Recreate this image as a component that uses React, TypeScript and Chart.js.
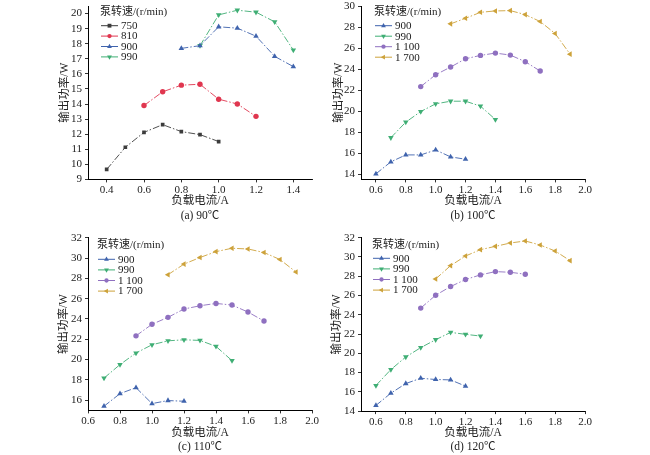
import { useEffect, useRef } from "react";
import { Chart, registerables } from "chart.js";
Chart.register(...registerables);

// ── Data ──────────────────────────────────────────────────────────────────────

const LEGEND_TITLE = "泵转速/(r/min)";
const X_TITLE = "负载电流/A";
const Y_TITLE = "输出功率/W";

// (a) 90 ℃
const A_SPEEDS = ["750", "810", "900", "990"];
const A_X_750 = [0.4, 0.5, 0.6, 0.7, 0.8, 0.9, 1.0];
const A_Y_750 = [9.66, 11.13, 12.12, 12.63, 12.17, 11.97, 11.51];
const A_X_810 = [0.6, 0.7, 0.8, 0.9, 1.0, 1.1, 1.2];
const A_Y_810 = [13.9, 14.81, 15.25, 15.31, 14.32, 14.0, 13.18];
const A_X_900 = [0.8, 0.9, 1.0, 1.1, 1.2, 1.3, 1.4];
const A_Y_900 = [17.69, 17.87, 19.12, 19.03, 18.5, 17.16, 16.48];
const A_X_990 = [0.9, 1.0, 1.1, 1.2, 1.3, 1.4];
const A_Y_990 = [17.87, 19.91, 20.22, 20.09, 19.45, 17.58];
const A_X_TICKS = [0.4, 0.6, 0.8, 1.0, 1.2, 1.4];
const A_Y_TICKS = [9, 10, 11, 12, 13, 14, 15, 16, 17, 18, 19, 20];

// (b) 100 ℃
const B_SPEEDS = ["900", "990", "1 100", "1 700"];
const B_X_900 = [0.6, 0.7, 0.8, 0.9, 1.0, 1.1, 1.2];
const B_Y_900 = [14.03, 15.17, 15.83, 15.83, 16.3, 15.64, 15.42];
const B_X_990 = [0.7, 0.8, 0.9, 1.0, 1.1, 1.2, 1.3, 1.4];
const B_Y_990 = [17.47, 18.95, 19.96, 20.69, 20.94, 20.94, 20.47, 19.2];
const B_X_1100 = [0.9, 1.0, 1.1, 1.2, 1.3, 1.4, 1.5, 1.6, 1.7];
const B_Y_1100 = [22.33, 23.46, 24.19, 24.98, 25.3, 25.52, 25.33, 24.7, 23.81];
const B_X_1700 = [1.1, 1.2, 1.3, 1.4, 1.5, 1.6, 1.7, 1.8, 1.9];
const B_Y_1700 = [28.3, 28.83, 29.4, 29.53, 29.56, 29.18, 28.52, 27.38, 25.42];
const B_X_TICKS = [0.6, 0.8, 1.0, 1.2, 1.4, 1.6, 1.8, 2.0];
const B_Y_TICKS = [14, 16, 18, 20, 22, 24, 26, 28, 30];

// (c) 110 ℃
const C_SPEEDS = ["900", "990", "1 100", "1 700"];
const C_X_900 = [0.7, 0.8, 0.9, 1.0, 1.1, 1.2];
const C_Y_900 = [15.41, 16.65, 17.24, 15.67, 15.97, 15.9];
const C_X_990 = [0.7, 0.8, 0.9, 1.0, 1.1, 1.2, 1.3, 1.4, 1.5];
const C_Y_990 = [18.18, 19.51, 20.65, 21.46, 21.85, 21.95, 21.89, 21.3, 19.9];
const C_X_1100 = [0.9, 1.0, 1.1, 1.2, 1.3, 1.4, 1.5, 1.6, 1.7];
const C_Y_1100 = [22.34, 23.48, 24.16, 24.98, 25.3, 25.53, 25.37, 24.68, 23.8];
const C_X_1700 = [1.1, 1.2, 1.3, 1.4, 1.5, 1.6, 1.7, 1.8, 1.9];
const C_Y_1700 = [28.36, 29.4, 30.05, 30.63, 30.96, 30.89, 30.54, 29.85, 28.62];
const C_X_TICKS = [0.6, 0.8, 1.0, 1.2, 1.4, 1.6, 1.8, 2.0];
const C_Y_TICKS = [16, 18, 20, 22, 24, 26, 28, 30, 32];

// (d) 120 ℃
const D_SPEEDS = ["900", "990", "1 100", "1 700"];
const D_X_900 = [0.6, 0.7, 0.8, 0.9, 1.0, 1.1, 1.2];
const D_Y_900 = [14.59, 15.86, 16.86, 17.41, 17.28, 17.24, 16.59];
const D_X_990 = [0.6, 0.7, 0.8, 0.9, 1.0, 1.1, 1.2, 1.3];
const D_Y_990 = [16.66, 18.31, 19.62, 20.59, 21.41, 22.17, 21.97, 21.79];
const D_X_1100 = [0.9, 1.0, 1.1, 1.2, 1.3, 1.4, 1.5, 1.6];
const D_Y_1100 = [24.69, 26.03, 26.93, 27.66, 28.14, 28.48, 28.41, 28.21];
const D_X_1700 = [1.0, 1.1, 1.2, 1.3, 1.4, 1.5, 1.6, 1.7, 1.8, 1.9];
const D_Y_1700 = [27.72, 29.1, 30.1, 30.76, 31.1, 31.45, 31.66, 31.24, 30.62, 29.62];
const D_X_TICKS = [0.6, 0.8, 1.0, 1.2, 1.4, 1.6, 1.8, 2.0];
const D_Y_TICKS = [14, 16, 18, 20, 22, 24, 26, 28, 30, 32];

// ── Styles ────────────────────────────────────────────────────────────────────

const FONT = '"Liberation Serif", "Noto Sans CJK SC", serif';
const INK = "#222";

type Marker = { color: string; style: string; rotation: number };
const MARKERS: Record<string, Marker> = {
  "750":   { color: "#3c3c3c", style: "rect",     rotation: 0 },
  "810":   { color: "#e0364f", style: "circle",   rotation: 0 },
  "900":   { color: "#3f63ad", style: "triangle", rotation: 0 },
  "990":   { color: "#3fae74", style: "triangle", rotation: 180 },
  "1 100": { color: "#8f70c0", style: "circle",   rotation: 0 },
  "1 700": { color: "#cda23a", style: "triangle", rotation: 270 },
};

const W = 325;
const H = 227;

interface Box {
  left: number; right: number; top: number; bottom: number;
  yTitleX: number; captionY: number;
  legendX: number; legendTitleY: number; legendFirstY: number; legendRow: number;
}

interface Panel {
  caption: string;
  speeds: string[];
  xs: number[][];
  ys: number[][];
  xMin: number; xMax: number; xTicks: number[];
  yMin: number; yMax: number; yTicks: number[];
  box: Box;
}

const PANELS: Panel[] = [
  {
    caption: "(a) 90℃", speeds: A_SPEEDS,
    xs: [A_X_750, A_X_810, A_X_900, A_X_990], ys: [A_Y_750, A_Y_810, A_Y_900, A_Y_990],
    xMin: 0.3, xMax: 1.5, xTicks: A_X_TICKS, yMin: 9, yMax: 20.5, yTicks: A_Y_TICKS,
    box: { left: 88, right: 312, top: 6, bottom: 180, yTitleX: 65, captionY: 216,
      legendX: 101, legendTitleY: 11.7, legendFirstY: 25.7, legendRow: 10.4 },
  },
  {
    caption: "(b) 100℃", speeds: B_SPEEDS,
    xs: [B_X_900, B_X_990, B_X_1100, B_X_1700], ys: [B_Y_900, B_Y_990, B_Y_1100, B_Y_1700],
    xMin: 0.5, xMax: 2.0, xTicks: B_X_TICKS, yMin: 13.5, yMax: 30, yTicks: B_Y_TICKS,
    box: { left: 36, right: 260, top: 6, bottom: 180, yTitleX: 13.5, captionY: 216,
      legendX: 50, legendTitleY: 11.7, legendFirstY: 25.7, legendRow: 10.5 },
  },
  {
    caption: "(c) 110℃", speeds: C_SPEEDS,
    xs: [C_X_900, C_X_990, C_X_1100, C_X_1700], ys: [C_Y_900, C_Y_990, C_Y_1100, C_Y_1700],
    xMin: 0.6, xMax: 2.0, xTicks: C_X_TICKS, yMin: 15, yMax: 32, yTicks: C_Y_TICKS,
    box: { left: 88, right: 312, top: 9.7, bottom: 183, yTitleX: 63.3, captionY: 219.7,
      legendX: 98, legendTitleY: 17, legendFirstY: 31.3, legendRow: 10.6 },
  },
  {
    caption: "(d) 120℃", speeds: D_SPEEDS,
    xs: [D_X_900, D_X_990, D_X_1100, D_X_1700], ys: [D_Y_900, D_Y_990, D_Y_1100, D_Y_1700],
    xMin: 0.5, xMax: 2.0, xTicks: D_X_TICKS, yMin: 14, yMax: 32, yTicks: D_Y_TICKS,
    box: { left: 36, right: 260, top: 9.7, bottom: 183.7, yTitleX: 11.7, captionY: 219.7,
      legendX: 48, legendTitleY: 17, legendFirstY: 30.3, legendRow: 10.6 },
  },
];

// ── Helpers ───────────────────────────────────────────────────────────────────

function drawMarker(ctx: CanvasRenderingContext2D, m: Marker, x: number, y: number, r: number) {
  ctx.save();
  ctx.translate(x, y);
  ctx.rotate((m.rotation * Math.PI) / 180);
  ctx.fillStyle = m.color;
  ctx.beginPath();
  if (m.style === "rect") ctx.rect(-r * 0.8, -r * 0.8, r * 1.6, r * 1.6);
  else if (m.style === "circle") ctx.arc(0, 0, r * 0.9, 0, Math.PI * 2);
  else {
    ctx.moveTo(0, -r * 1.15);
    ctx.lineTo(r, r * 0.6);
    ctx.lineTo(-r, r * 0.6);
    ctx.closePath();
  }
  ctx.fill();
  ctx.restore();
}

function innerLegend(p: Panel) {
  return {
    id: "innerLegend",
    afterDatasetsDraw(chart: Chart) {
      const ctx = chart.ctx;
      const b = p.box;
      ctx.save();
      ctx.font = `11px ${FONT}`;
      ctx.fillStyle = INK;
      ctx.textBaseline = "middle";
      ctx.textAlign = "left";
      ctx.fillText(LEGEND_TITLE, b.legendX - 1, b.legendTitleY);
      p.speeds.forEach((s, i) => {
        const m = MARKERS[s];
        const y = b.legendFirstY + i * b.legendRow;
        ctx.strokeStyle = m.color;
        ctx.lineWidth = 1;
        ctx.beginPath();
        ctx.moveTo(b.legendX, y);
        ctx.lineTo(b.legendX + 17, y);
        ctx.stroke();
        drawMarker(ctx, m, b.legendX + 8.5, y, 2.4);
        ctx.fillStyle = INK;
        ctx.fillText(s, b.legendX + 20, y + 0.5);
      });
      ctx.restore();
    },
  };
}

// ── One panel ─────────────────────────────────────────────────────────────────

function PanelChart({ p }: { p: Panel }) {
  const ref = useRef<HTMLCanvasElement>(null);
  const chartRef = useRef<Chart | null>(null);

  useEffect(() => {
    if (!ref.current) return;
    chartRef.current?.destroy();

    const b = p.box;
    const half = 6.6; // half line height of an 11px label
    const padLeft = b.yTitleX - half;
    const yWidth = b.left - padLeft;
    const xHeight = b.captionY - half - b.bottom;

    chartRef.current = new Chart(ref.current, {
      type: "line",
      data: {
        datasets: p.speeds.map((s, i) => {
          const m = MARKERS[s];
          return {
            label: s,
            data: p.xs[i].map((x, j) => ({ x, y: p.ys[i][j] })),
            borderColor: m.color,
            backgroundColor: m.color,
            borderWidth: 0.9,
            borderDash: [7, 2, 1.5, 2],
            pointStyle: m.style,
            rotation: m.rotation,
            pointRadius: m.style === "circle" ? 2.7 : m.style === "rect" ? 2.6 : 3.2,
            pointBorderWidth: 0,
            pointBackgroundColor: m.color,
            tension: 0,
          };
        }),
      },
      options: {
        responsive: false,
        animation: false,
        layout: {
          padding: { left: padLeft, right: W - b.right, top: b.top, bottom: H - (b.captionY + half) },
        },
        plugins: {
          legend: { display: false },
          tooltip: { enabled: false },
          title: {
            display: true,
            position: "bottom",
            fullSize: false,
            text: p.caption,
            padding: 0,
            color: INK,
            font: { family: FONT, size: 11.5, weight: "normal" },
          },
        },
        scales: {
          x: {
            type: "linear",
            min: p.xMin,
            max: p.xMax,
            afterBuildTicks: (s) => { s.ticks = p.xTicks.map((v) => ({ value: v })); },
            afterFit: (s) => { s.height = xHeight; s.paddingLeft = 0; s.paddingRight = 0; },
            ticks: {
              autoSkip: false, maxRotation: 0, padding: 1, color: INK,
              font: { family: FONT, size: 11 },
              callback: (v) => Number(v).toFixed(1),
            },
            grid: { drawOnChartArea: false, drawTicks: true, tickLength: 3, color: "#000", lineWidth: 0.8 },
            border: { display: true, color: "#000", width: 1 },
            title: {
              display: true, text: X_TITLE, color: INK, padding: { top: 0, bottom: 1 },
              font: { family: FONT, size: 11.5 },
            },
          },
          y: {
            type: "linear",
            min: p.yMin,
            max: p.yMax,
            afterBuildTicks: (s) => { s.ticks = p.yTicks.map((v) => ({ value: v })); },
            afterFit: (s) => { s.width = yWidth; s.paddingTop = 0; s.paddingBottom = 0; },
            ticks: {
              autoSkip: false, padding: 3, color: INK,
              font: { family: FONT, size: 11 },
              callback: (v) => String(v),
            },
            grid: { drawOnChartArea: false, drawTicks: true, tickLength: 3, color: "#000", lineWidth: 0.8 },
            border: { display: true, color: "#000", width: 1 },
            title: {
              display: true, text: Y_TITLE, color: INK, padding: 0,
              font: { family: FONT, size: 11.5 },
            },
          },
        },
      },
      plugins: [innerLegend(p)],
    });

    return () => chartRef.current?.destroy();
  }, [p]);

  return <canvas ref={ref} width={W} height={H} style={{ width: W, height: H, display: "block" }} />;
}

// ── Page ──────────────────────────────────────────────────────────────────────

export default function App() {
  return (
    <div style={{ position: "absolute", left: 0, top: 0, width: 650, height: 455, background: "#fff" }}>
      {PANELS.map((p, i) => (
        <div
          key={p.caption}
          style={{ position: "absolute", left: (i % 2) * W, top: i < 2 ? 0 : 228, width: W, height: H }}
        >
          <PanelChart p={p} />
        </div>
      ))}
    </div>
  );
}
